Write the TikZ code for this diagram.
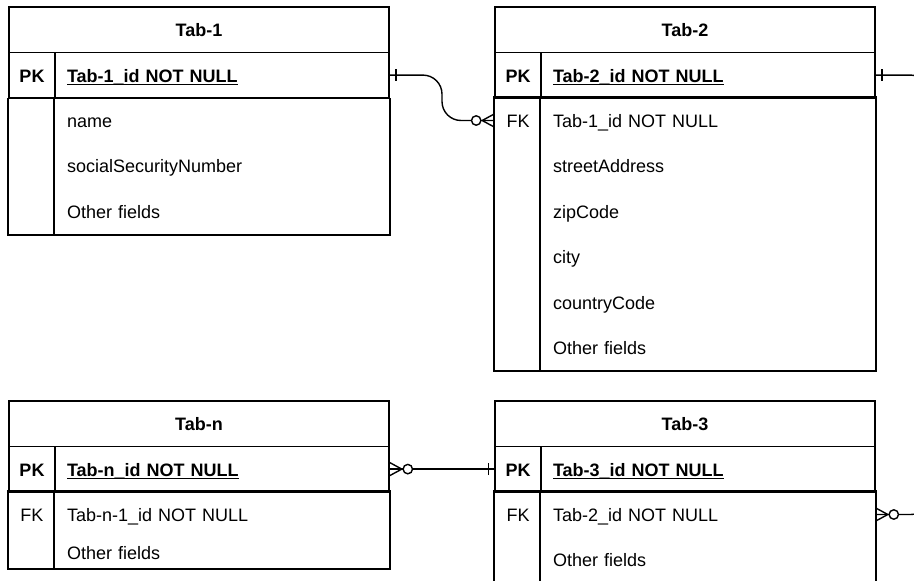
\documentclass[tikz,border=0pt]{standalone}
\usepackage{fontspec}
\setmainfont{Liberation Sans}
\newcommand{\keyline}[1]{\setbox0\hbox{#1}\rlap{\rule[-3.2pt]{\wd0}{1.6pt}}\box0}
\usetikzlibrary{calc}
\tikzstyle{cell}=[line width=1.6pt, inner sep=0, text height=17.8pt, text depth=3.8pt, font=\fontsize{18}{21.6}\selectfont]
\tikzstyle{head}=[cell, draw, minimum width=380pt, minimum height=45.4pt, font=\fontsize{18}{21.6}\selectfont\bfseries]
\tikzstyle{key}=[cell, minimum width=46pt, minimum height=45.4pt]
\tikzstyle{field}=[cell, text width=310pt, inner xsep=12pt, minimum height=45.4pt, align=left]
\tikzstyle{pk}=[draw, font=\fontsize{18}{21.6}\selectfont\bfseries]
\tikzset{
  erone/.pic={\draw[line width=1.4pt] (6,-6)--(6,6);},
  ermany/.pic={\draw[line width=1.4pt] (0,-6.5)--(12,0)--(0,6.5);
    \draw[line width=1.4pt, fill=white] (18,0) circle (4.7);}
}

\begin{document}
\begin{tikzpicture}[x=1pt, y=-1pt, line width=1.4pt]
\useasboundingbox (0,0) rectangle (914,581);
\clip (0,0) rectangle (914,581);
\fill[white] (0,0) rectangle (914,581);

\node at (199,29.7)[head](t1head){Tab-1};
\node at (32,75.1)[key, pk](t1pkk){PK};
\node at (222,75.1)[field, pk](t1pk){\keyline{Tab-1\_id NOT NULL}};
\node at (222,120.5)[field](t1r1){name};
\node at (222,165.9)[field](t1r2){socialSecurityNumber};
\node at (222,211.3)[field](t1r3){Other fields};
\draw[line width=1.6pt] (t1pkk.south west) rectangle (t1r3.south east);
\draw[line width=1.6pt] (t1r1.north west)--(t1r3.south west);

\node at (685,29.7)[head](t2head){Tab-2};
\node at (518,75.1)[key, pk](t2pkk){PK};
\node at (708,75.1)[field, pk](t2pk){\keyline{Tab-2\_id NOT NULL}};
\node at (518,120.5)[key](t2fkk){FK};
\node at (708,120.5)[field](t2fk){Tab-1\_id NOT NULL};
\node at (708,165.9)[field](t2r2){streetAddress};
\node at (708,211.3)[field](t2r3){zipCode};
\node at (708,256.7)[field](t2r4){city};
\node at (708,302.1)[field](t2r5){countryCode};
\node at (708,347.5)[field](t2r6){Other fields};
\draw[line width=1.6pt] (t2fkk.north west) rectangle (t2r6.south east);
\draw[line width=1.6pt] (t2fk.north west)--(t2r6.south west);

\node at (199,423.7)[head](tnhead){Tab-n};
\node at (32,469.1)[key, pk](tnpkk){PK};
\node at (222,469.1)[field, pk](tnpk){\keyline{Tab-n\_id NOT NULL}};
\node at (32,514.5)[key](tnfkk){FK};
\node at (222,514.5)[field](tnfk){Tab-n-1\_id NOT NULL};
\node at (222,552.6)[field, minimum height=30.8pt](tnr2){Other fields};
\draw[line width=1.6pt] (tnfkk.north west) rectangle (tnr2.south east);
\draw[line width=1.6pt] (tnfk.north west)--(tnr2.south west);

\node at (685,423.7)[head](t3head){Tab-3};
\node at (518,469.1)[key, pk](t3pkk){PK};
\node at (708,469.1)[field, pk](t3pk){\keyline{Tab-3\_id NOT NULL}};
\node at (518,514.5)[key](t3fkk){FK};
\node at (708,514.5)[field](t3fk){Tab-2\_id NOT NULL};
\node at (708,559.9)[field](t3r2){Other fields};
\draw[line width=1.6pt] (t3fkk.north west) rectangle (t3r2.south east);
\draw[line width=1.6pt] (t3fk.north west)--(t3r2.south west);

\coordinate (mid) at ($(t1pk.east)!.5!(t2fkk.west)$);
\draw[rounded corners=19] (t1pk.east) -- (t1pk.east -| mid) -- (mid |- t2fkk.west) -- (t2fkk.west);
\pic at (t1pk.east) {erone};
\pic[rotate=180] at (t2fkk.west) {ermany};

\draw (tnpk.east)--(t3pkk.west);
\pic at (tnpk.east) {ermany};
\pic[rotate=180] at (t3pkk.west) {erone};

\draw[rounded corners=20] (t2pk.east) -- ++(55,0) |- (t3fk.east);
\pic at (t2pk.east) {erone};
\pic at (t3fk.east) {ermany};
\end{tikzpicture}
\end{document}
